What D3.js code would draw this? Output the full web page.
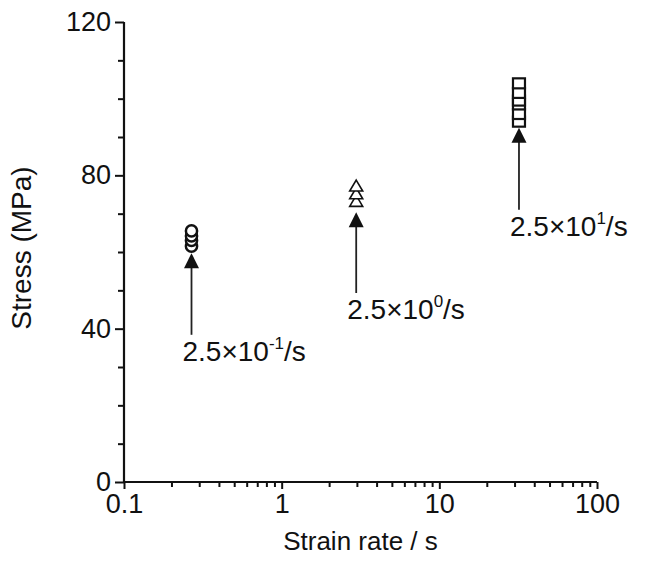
<!DOCTYPE html>
<html>
<head>
<meta charset="utf-8">
<script src="https://cdn.jsdelivr.net/npm/d3@7"></script>
<style>
  html, body { margin: 0; padding: 0; background: #fff; }
  svg text { font-family: "Liberation Sans", Arial, sans-serif; fill: #111; }
</style>
</head>
<body>
<div id="chart"></div>
<script>
// Chart size and margins.
const width = 645;
const height = 568;
const marginTop = 22;
const marginRight = 48;
const marginBottom = 86;
const marginLeft = 124;

// Data.
const groupRates = [0.268, 2.97, 32];          // x position of each marker stack
const circleStress = [61.5, 63, 64.2, 65.5];   // 2.5x10^-1 /s
const triangleStress = [73.2, 75.2, 77.2];     // 2.5x10^0 /s
const squareStress = [94, 96, 98.5, 99.5, 101.5, 104]; // 2.5x10^1 /s
const arrowTip = [59.7, 70.4, 92.4];
const arrowTail = [38.4, 49.3, 71];
const labelExp = ["-1", "0", "1"];

const xMajor = [0.1, 1, 10, 100];
const xMinor = [];
for (const d of [0.1, 1, 10]) for (let k = 2; k <= 9; k++) xMinor.push(d * k);
const yMajor = [0, 40, 80, 120];
const yMinor = [10, 20, 30, 50, 60, 70, 90, 100, 110];

const x = d3.scaleLog().domain([0.1, 100]).range([marginLeft, width - marginRight]);
const y = d3.scaleLinear().domain([0, 120]).range([height - marginBottom, marginTop]);

const svg = d3.select("#chart").append("svg")
  .attr("width", width)
  .attr("height", height);

// Axes: minor ticks first, then the major ones with labels
const gx = svg.append("g").attr("transform", `translate(0,${y(0)})`);
gx.call(d3.axisBottom(x).tickValues(xMinor).tickSize(5).tickFormat(""));
gx.call(g => g.select(".domain").remove());
const gxMaj = svg.append("g").attr("transform", `translate(0,${y(0)})`)
  .call(d3.axisBottom(x).tickValues(xMajor).tickSize(7).tickPadding(5)
    .tickFormat(d => d3.format("~g")(d)));

const gy = svg.append("g").attr("transform", `translate(${x(0.1)},0)`);
gy.call(d3.axisLeft(y).tickValues(yMinor).tickSize(6).tickFormat(""));
gy.call(g => g.select(".domain").remove());
const gyMaj = svg.append("g").attr("transform", `translate(${x(0.1)},0)`)
  .call(d3.axisLeft(y).tickValues(yMajor).tickSize(9).tickPadding(4));

svg.selectAll(".domain").attr("stroke", "#111").attr("stroke-width", 2.2);
svg.selectAll(".tick line").attr("stroke", "#111").attr("stroke-width", 2);
svg.selectAll(".tick text").attr("font-size", 27)
  .style("font-family", "'Liberation Sans', Arial, sans-serif").attr("fill", "#111");

// plain domain lines (no outer ticks)
gxMaj.select(".domain").attr("d", `M${x(0.1)},0H${x(100)}`);
gyMaj.select(".domain").attr("d", `M0,${y(0)}V${y(120)}`);

// Axis titles
svg.append("text")
  .attr("x", (x(0.1) + x(100)) / 2)
  .attr("y", height - 18)
  .attr("text-anchor", "middle")
  .attr("font-size", 26)
  .text("Strain rate / s");

svg.append("text")
  .attr("transform", `translate(31,${(y(0) + y(120)) / 2 - 4}) rotate(-90)`)
  .attr("text-anchor", "middle")
  .attr("font-size", 28)
  .text("Stress (MPa)");

// Markers
const marks = svg.append("g").attr("fill", "#fff").attr("stroke", "#111");

marks.selectAll("circle").data(circleStress).join("circle")
  .attr("cx", x(groupRates[0]))
  .attr("cy", d => y(d))
  .attr("r", 5.6)
  .attr("stroke-width", 2.5);

marks.selectAll("path.tri").data(triangleStress).join("path")
  .attr("class", "tri")
  .attr("transform", d => `translate(${x(groupRates[1])},${y(d)})`)
  .attr("d", "M0,-6L6.5,5L-6.5,5Z")
  .attr("stroke-width", 1.6);

marks.selectAll("rect").data(squareStress).join("rect")
  .attr("x", x(groupRates[2]) - 6)
  .attr("y", d => y(d) - 5)
  .attr("width", 12)
  .attr("height", 10)
  .attr("stroke-width", 2.2);

// Arrows with labels
const arrows = svg.append("g");
groupRates.forEach((r, i) => {
  const ax = x(r);
  const tip = y(arrowTip[i]);
  const tail = y(arrowTail[i]);
  arrows.append("line")
    .attr("x1", ax).attr("x2", ax)
    .attr("y1", tip + 10).attr("y2", tail)
    .attr("stroke", "#222").attr("stroke-width", 1.8);
  arrows.append("path")
    .attr("d", `M${ax},${tip}L${ax + 7.5},${tip + 15}L${ax - 7.5},${tip + 15}Z`)
    .attr("fill", "#111");
  const t = arrows.append("text")
    .attr("x", ax - 9)
    .attr("y", tail + 26)
    .attr("font-size", 28);
  t.append("tspan").text("2.5×10");
  t.append("tspan").attr("font-size", 17).attr("dy", -12).text(labelExp[i]);
  t.append("tspan").attr("dy", 12).text("/s");
});
</script>
</body>
</html>
